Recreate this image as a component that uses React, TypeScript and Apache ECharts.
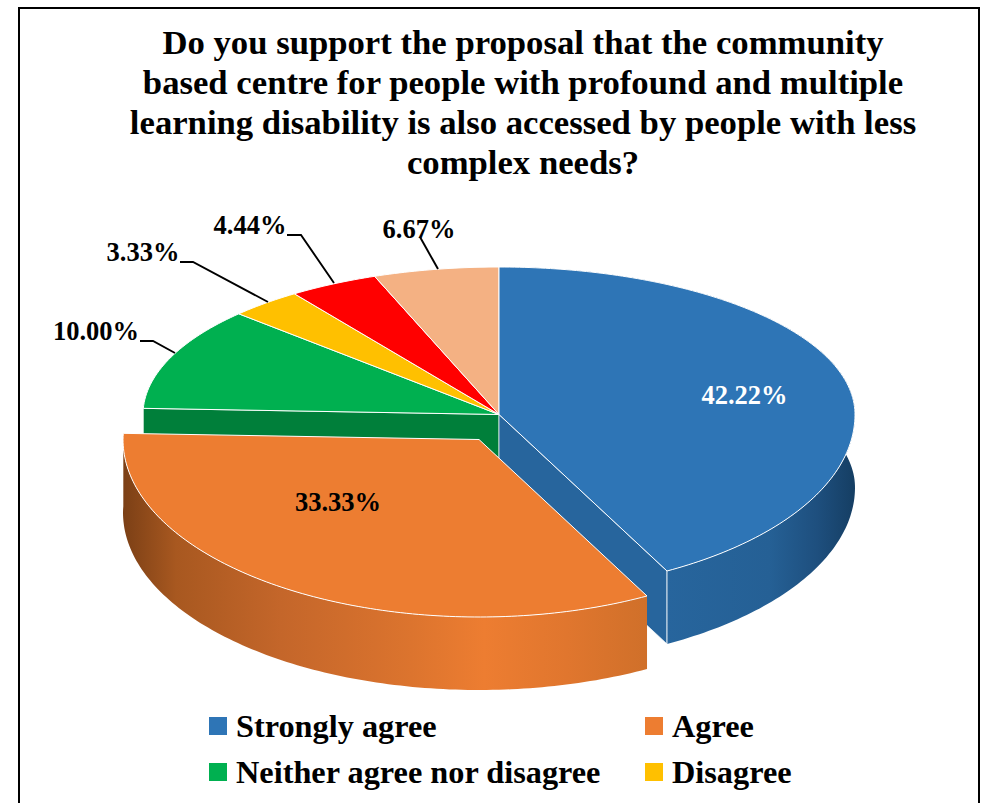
import React, { useEffect, useRef } from "react";
import * as echarts from "echarts";

const categories = ["Strongly agree", "Agree", "Neither agree nor disagree", "Disagree", "Strongly disagree", "Not sure"];
const shares = [42.22, 33.33, 10.0, 3.33, 4.44, 6.67];
const colors = ["#2e75b6", "#ed7d31", "#00b050", "#ffc000", "#ff0000", "#f4b183"];
const titleLines = [
  "Do you support the proposal that the community",
  "based centre for people with profound and multiple",
  "learning disability is also accessed by people with less",
  "complex needs?",
];
const legendLeft = ["Strongly agree", "Neither agree nor disagree"];
const legendRight = ["Agree", "Disagree"];

// layout of the projected 3D pie: the far half of the rim is flatter than the near half
const FONT = '"Liberation Serif", "Times New Roman", serif';
const CX = 499, PY = 414.5, RX = 356, RY_BACK = 147.5, RY_FRONT = 177.5, K = 2.02, DEPTH = 73;
const paintOrder = [5, 6, 1, 2, 3, 4];
const explode: Record<number, [number, number]> = { 1: [-20, 25] };
const labelLayout: Record<number, { x: number; y: number; fill: string; leader?: number[][] }> = {
  0: { x: 744.5, y: 395, fill: "#ffffff" },
  1: { x: 338, y: 502, fill: "#000000" },
  2: { x: 96, y: 331, fill: "#000000", leader: [[140, 341], [153, 341], [175, 353]] },
  3: { x: 143, y: 252, fill: "#000000", leader: [[180, 262], [193, 262], [268, 302]] },
  4: { x: 250, y: 225, fill: "#000000", leader: [[287, 235], [301, 235], [334, 283]] },
  5: { x: 419, y: 229, fill: "#000000", leader: [[420, 237], [438, 269]] },
};
const wallStops: Record<number, [number, number, [number, string][]]> = {
  0: [666, 855, [[0, "#27659d"], [0.55, "#256095"], [0.8, "#1e4f7e"], [1, "#153e63"]]],
  1: [124, 646, [[0, "#7c4016"], [0.1, "#a85820"], [0.3, "#c4662a"], [0.55, "#dc742e"], [0.69, "#ed7d31"], [0.85, "#e0762e"], [1, "#d0702a"]]],
};
const cutColors: Record<number, string> = { 0: "#27659d", 2: "#007f3a" };

const total = shares.reduce((a, b) => a + b, 0);
const startAngle = (i: number) => (shares.slice(0, i).reduce((a, b) => a + b, 0) / total) * Math.PI * 2;

function rim(theta: number): [number, number] {
  const dx = K * Math.sin(theta);
  const dy = -Math.cos(theta);
  const ry = dy < 0 ? RY_BACK : RY_FRONT;
  const t = 1 / Math.sqrt((dx / RX) ** 2 + (dy / ry) ** 2);
  return [CX + t * dx, PY + t * dy];
}

function arcPoints(t0: number, t1: number, ox: number, oy: number): number[][] {
  const n = Math.max(2, Math.ceil(((t1 - t0) * 180) / Math.PI));
  const pts: number[][] = [];
  for (let i = 0; i <= n; i++) {
    const p = rim(t0 + ((t1 - t0) * i) / n);
    pts.push([p[0] + ox, p[1] + oy]);
  }
  return pts;
}

const toPath = (pts: number[][], close = true) =>
  pts.map((p, i) => `${i ? "L" : "M"}${p[0].toFixed(2)} ${p[1].toFixed(2)}`).join(" ") + (close ? " Z" : "");

function renderSlice(index: number) {
  return (_params: any, api: any) => {
    const value = api.value(0) as number;
    const t0 = startAngle(index);
    const t1 = t0 + (value / total) * Math.PI * 2;
    const [ox, oy] = explode[index] || [0, 0];
    const centre = [CX + ox, PY + oy];
    const arc = arcPoints(t0, t1, ox, oy);
    const children: any[] = [];
    if (cutColors[index]) {
      const edge = index === 0 ? arc[arc.length - 1] : arc[0];
      children.push({
        type: "path",
        shape: {
          pathData: toPath([centre, edge, [edge[0], edge[1] + DEPTH], [centre[0], centre[1] + DEPTH]]),
        },
        style: { fill: cutColors[index], stroke: "#ffffff", lineWidth: 0.7 },
      });
    }
    const wall = wallStops[index];
    if (wall) {
      const lower = arc.map((p) => [p[0], p[1] + DEPTH]).reverse();
      children.push({
        type: "path",
        shape: { pathData: toPath([...arc, ...lower]) },
        style: {
          fill: new echarts.graphic.LinearGradient(
            wall[0], 0, wall[1], 0,
            wall[2].map(([offset, color]) => ({ offset, color })),
            true
          ),
        },
      });
    }
    if (index === 0) {
      const e = arc[arc.length - 1];
      children.push({
        type: "line",
        shape: { x1: e[0], y1: e[1], x2: e[0], y2: e[1] + DEPTH },
        style: { stroke: "#ffffff", lineWidth: 0.8 },
      });
    }
    children.push({
      type: "path",
      shape: { pathData: toPath([centre, ...arc]) },
      style: { fill: api.visual("color"), stroke: "#ffffff", lineWidth: 1, lineJoin: "round" },
    });
    const label = labelLayout[index];
    if (label.leader) {
      children.push({
        type: "polyline",
        shape: { points: label.leader },
        style: { fill: "none", stroke: "#000000", lineWidth: 1.9 },
      });
    }
    children.push({
      type: "text",
      style: {
        text: value.toFixed(2) + "%",
        x: label.x,
        y: label.y,
        align: "center",
        verticalAlign: "middle",
        fill: label.fill,
        font: `bold 26.5px ${FONT}`,
      },
    });
    return { type: "group", children };
  };
}

const legendBase = {
  orient: "vertical" as const,
  top: 705,
  icon: "rect",
  itemWidth: 18,
  itemHeight: 18,
  itemGap: 14,
  selectedMode: false,
  textStyle: { fontFamily: FONT, fontWeight: "bold" as const, fontSize: 32.3, color: "#000000", padding: [0, 0, 0, 4] },
};

export default function App() {
  const ref = useRef<HTMLDivElement>(null);
  useEffect(() => {
    document.body.style.margin = "0";
    const chart = echarts.init(ref.current!, undefined, { renderer: "svg" });
    chart.setOption({
      animation: false,
      backgroundColor: "#ffffff",
      title: {
        text: titleLines.join("\n"),
        left: 518,
        top: 17,
        textAlign: "center",
        textStyle: { fontFamily: FONT, fontWeight: "bold", fontSize: 34.7, lineHeight: 40, color: "#000000" },
      },
      legend: [
        { ...legendBase, left: 204, data: legendLeft },
        { ...legendBase, left: 640, data: legendRight },
      ],
      graphic: [
        {
          type: "polyline",
          shape: { points: [[19, 803], [19, 8], [979, 8], [979, 803]] },
          style: { fill: "none", stroke: "#000000", lineWidth: 2 },
        },
      ],
      series: categories.map((name, i) => ({
        type: "custom",
        name,
        coordinateSystem: "none",
        silent: true,
        z: paintOrder[i],
        itemStyle: { color: colors[i] },
        renderItem: renderSlice(i),
        data: [{ name, value: [shares[i]] }],
      })),
    });
    return () => chart.dispose();
  }, []);
  return <div ref={ref} style={{ width: 982, height: 803 }} />;
}
